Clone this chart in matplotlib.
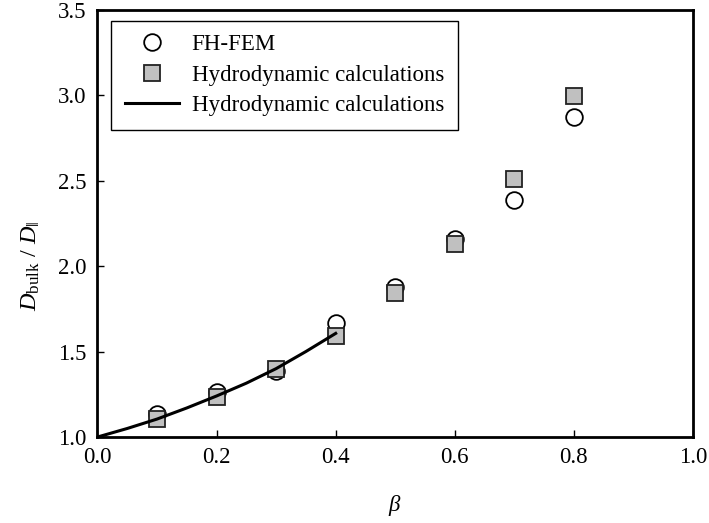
import numpy as np
import matplotlib.pyplot as plt

plt.rcParams['font.family'] = ['Liberation Serif', 'DejaVu Serif']
plt.rcParams['mathtext.fontset'] = 'custom'
plt.rcParams['mathtext.rm'] = 'Liberation Serif'
plt.rcParams['mathtext.it'] = 'Liberation Serif:italic'
plt.rcParams['font.size'] = 16.5

# FH-FEM results
beta_fem = [0.1, 0.2, 0.3, 0.4, 0.5, 0.6, 0.7, 0.8]
d_fem = [1.133, 1.265, 1.388, 1.665, 1.875, 2.156, 2.388, 2.873]

# hydrodynamic calculations (squares)
beta_hyd = [0.1, 0.2, 0.3, 0.4, 0.5, 0.6, 0.7, 0.8]
d_hyd = [1.105, 1.236, 1.398, 1.592, 1.844, 2.128, 2.507, 2.994]

# hydrodynamic calculations (line)
beta_line = [0.0, 0.05, 0.1, 0.15, 0.2, 0.25, 0.3, 0.35, 0.4]
d_line = [1.0, 1.05, 1.105, 1.17, 1.24, 1.315, 1.40, 1.50, 1.606]

fig = plt.figure(figsize=(7.09, 5.23), dpi=100)
ax = fig.add_axes([0.1375, 0.1644, 0.8399, 0.8174])

ax.plot(beta_fem, d_fem, 'o', ms=12, mfc='white', mec='black', mew=1.3,
        label='FH-FEM', zorder=3)
ax.plot(beta_hyd, d_hyd, 's', ms=11, mfc='#c0c0c0', mec='#222222', mew=1.3,
        label='Hydrodynamic calculations', zorder=4)
ax.plot(beta_line, d_line, '-', color='black', lw=2.2,
        label='Hydrodynamic calculations', zorder=5)

ax.set_xlim(0, 1)
ax.set_ylim(1.0, 3.5)
ax.set_xticks(np.arange(0, 1.01, 0.2))
ax.set_yticks(np.arange(1.0, 3.51, 0.5))
ax.xaxis.set_major_formatter(plt.FormatStrFormatter('%.1f'))
ax.yaxis.set_major_formatter(plt.FormatStrFormatter('%.1f'))
ax.tick_params(direction='in', length=5, width=1)
ax.tick_params(axis='x', pad=7.5)
ax.tick_params(axis='y', pad=8)
for s in ax.spines.values():
    s.set_linewidth(2)

ax.set_xlabel(r'$\beta$')
ax.xaxis.set_label_coords(0.5, -0.13)
ax.set_ylabel(r'$D_{\mathrm{bulk}}$ / $D_{\|}$', fontsize=17.5)
ax.yaxis.set_label_coords(-0.093, 0.40)

leg = ax.legend(loc='upper left', bbox_to_anchor=(0.0227, 0.974),
                borderaxespad=0, fancybox=False, edgecolor='black',
                framealpha=1, handlelength=2.35, handletextpad=0.57,
                labelspacing=0.4, borderpad=0.6)
leg.get_frame().set_linewidth(1)

fig.savefig('out.png', dpi=100)
